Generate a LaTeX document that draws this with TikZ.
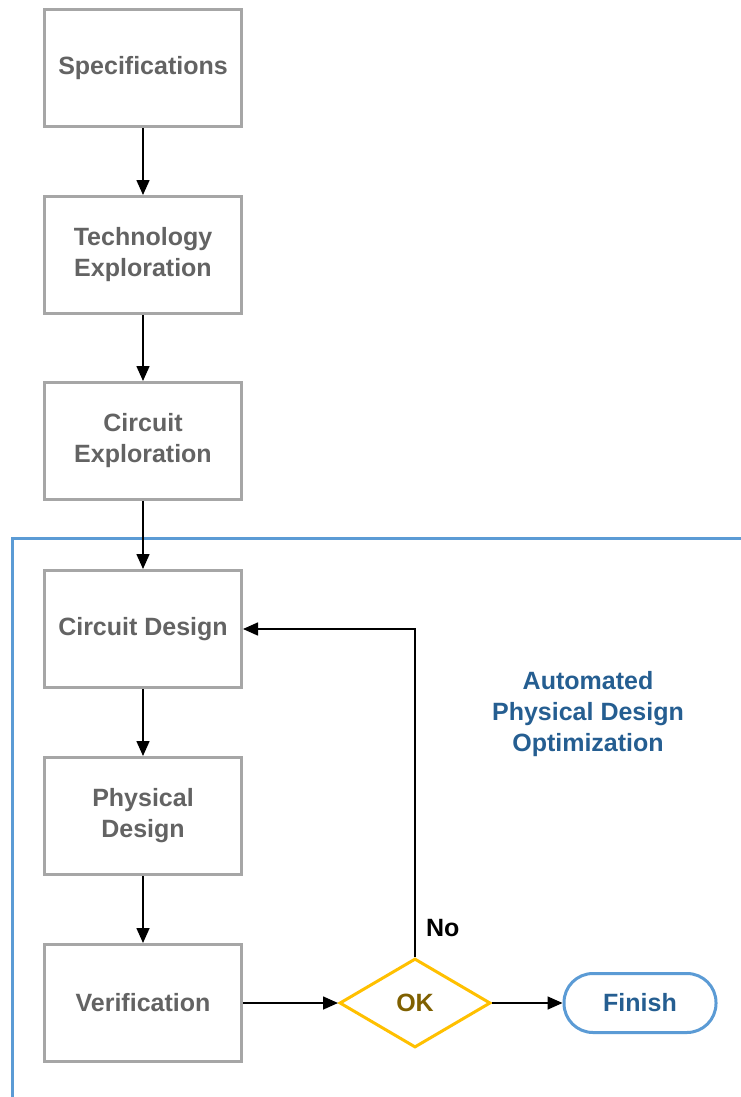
\documentclass[tikz,border=0pt]{standalone}
\usepackage{fontspec}
\setmainfont{Liberation Sans}
\usetikzlibrary{arrows.meta,shapes.geometric}
\definecolor{boxgray}{HTML}{A6A6A6}
\definecolor{txtgray}{HTML}{636363}
\definecolor{frameblue}{HTML}{5B9BD5}
\definecolor{darkblue}{HTML}{255E91}
\definecolor{gold}{HTML}{FFC000}
\definecolor{darkgold}{HTML}{7F6000}
\begin{document}
\begin{tikzpicture}[x=1pt,y=-1pt,
  big/.style={font=\fontsize{25}{31}\selectfont\bfseries},
  stepbox/.style={big,draw=boxgray,line width=3pt,fill=white,minimum width=197pt,minimum height=117pt,
    align=center,text=txtgray},
  decision/.style={big,diamond,draw=gold,line width=3pt,fill=white,minimum width=151pt,minimum height=89pt,
    inner sep=0pt,text=darkgold},
  terminal/.style={big,draw=frameblue,line width=3pt,fill=white,rounded corners=29pt,minimum width=152pt,
    minimum height=59pt,text=darkblue},
  flow/.style={line width=1.6pt,-{Triangle[length=15pt,width=13pt]}},
  frame/.style={draw=frameblue,line width=3pt}]
\useasboundingbox (0,0) rectangle (741,1097);
% region of the automated loop
\draw[frame] (12,1100) -- (12,538) -- (745,538);
\node[big,text=darkblue,align=center] (auto) at (588,714)
  {Automated\\Physical Design\\Optimization};
% main flow
\node[stepbox] (spec) at (143,68) {Specifications};
\node[stepbox] (tech) at (143,255) {Technology\\Exploration};
\node[stepbox] (circ) at (143,441) {Circuit\\Exploration};
\node[stepbox] (cd) at (143,629) {Circuit Design};
\node[stepbox] (pd) at (143,816) {Physical\\Design};
\node[stepbox] (ver) at (143,1003) {Verification};
\node[decision] (ok) at (415,1003) {OK};
\node[terminal] (fin) at (640,1003) {Finish};
\draw[flow] (spec) -- (tech);
\draw[flow] (tech) -- (circ);
\draw[flow] (circ) -- (cd);
\draw[flow] (cd) -- (pd);
\draw[flow] (pd) -- (ver);
\draw[flow] (ver) -- (ok);
\draw[flow] (ok) -- (fin);
\draw[flow] (ok.north) |- (cd.east) node[pos=0.044,right=7pt,text=black,big] {No};
\end{tikzpicture}
\end{document}
